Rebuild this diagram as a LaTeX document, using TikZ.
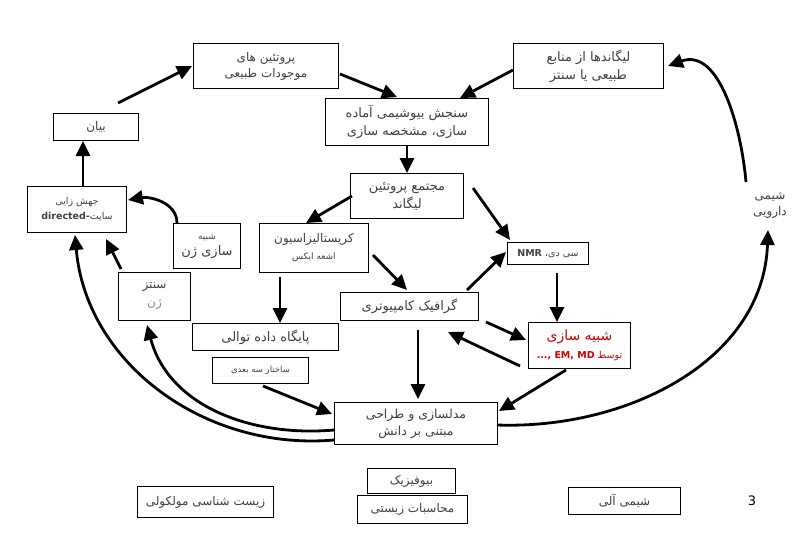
\documentclass[tikz,border=0pt]{standalone}
\usepackage{fontspec}
\setmainfont{DejaVu Sans}
\newfontfamily\ar[Script=Arabic]{DejaVu Sans}
\usetikzlibrary{arrows.meta}
\TeXXeTstate=1
\newcommand{\fa}[1]{{\ar\beginR #1\endR}}
\begin{document}
\begin{tikzpicture}[x=1pt,y=-1pt,
 box/.style={draw,line width=1pt,inner sep=0pt,align=center,anchor=north west},
 arr/.style={line width=2.8pt,-{Triangle[length=15pt,width=14pt]}},
 t/.style={font=\fontsize{12}{16}\selectfont,text=black!75}]
\useasboundingbox (0,0) rectangle (809,551);
\fill[white] (0,0) rectangle (809,551);
\node[box,minimum width=145,minimum height=45,t] (prot) at (193,43) {\fa{پروتئین های}\\\fa{موجودات طبیعی}};
\node[box,minimum width=150,minimum height=45,t,font=\fontsize{13}{18}\selectfont] (lig) at (513,43) {\fa{لیگاندها از منابع}\\\fa{طبیعی یا سنتز}};
\node[box,minimum width=163,minimum height=47,t,font=\fontsize{13}{18}\selectfont] (assay) at (325,98) {\fa{سنجش بیوشیمی آماده}\\\fa{سازی، مشخصه سازی}};
\node[box,minimum width=85,minimum height=27,t] (bayan) at (53,113) {\fa{بیان}};
\node[box,minimum width=113,minimum height=45,t,font=\fontsize{13}{18}\selectfont] (comp) at (350,173) {\fa{مجتمع پروتئین}\\\fa{لیگاند}};
\node[box,minimum width=99,minimum height=46,t,font=\fontsize{9.5}{15}\selectfont] (mut) at (27,186) {\fa{جهش زایی}\\\textbf{directed-}\fa{سایت}};
\node[box,minimum width=67,minimum height=45,t,font=\fontsize{9}{16}\selectfont] (gsim) at (173,223) {\fa{شبیه}\\{\fontsize{13}{15}\selectfont\fa{سازی ژن}}};
\node[box,minimum width=109,minimum height=49,t,font=\fontsize{12}{17}\selectfont] (cry) at (259,223) {\fa{کریستالیزاسیون}\\{\fontsize{9}{11}\selectfont\fa{اشعه ایکس}}};
\node[box,minimum width=81,minimum height=22,t,font=\fontsize{9.5}{11}\selectfont] (nmr) at (507,242) {\textbf{NMR} ،\fa{سی دی}};
\node[box,minimum width=72,minimum height=48,t,font=\fontsize{12}{18}\selectfont] (gsyn) at (118,272) {\fa{سنتز}\\{\color{black!45}\fa{ژن}}};
\node[box,minimum width=138,minimum height=28,t,font=\fontsize{13}{15}\selectfont] (graph) at (340,292) {\fa{گرافیک کامپیوتری}};
\node[box,minimum width=102,minimum height=46,text=red!80!black,font=\fontsize{14}{18}\selectfont] (sim) at (528,322) {\fa{شبیه سازی}\\{\fontsize{9.5}{11}\selectfont\textbf{..., EM, MD} \fa{توسط}}};
\node[box,minimum width=146,minimum height=27,t,font=\fontsize{13}{15}\selectfont] (db) at (192,323) {\fa{پایگاه داده توالی}};
\node[box,minimum width=96,minimum height=26,t,font=\fontsize{8.5}{10}\selectfont] (three) at (212,357) {\fa{ساختار سه بعدی}};
\node[box,minimum width=163,minimum height=42,t,font=\fontsize{12.5}{17}\selectfont] (mod) at (334,402) {\fa{مدلسازی و طراحی}\\\fa{مبتنی بر دانش}};
\node[box,minimum width=88,minimum height=25,t,font=\fontsize{12}{14}\selectfont] (bio) at (367,468) {\fa{بیوفیزیک}};
\node[box,minimum width=110,minimum height=28,t,font=\fontsize{12}{14}\selectfont] (comp2) at (357,495) {\fa{محاسبات زیستی}};
\node[box,minimum width=136,minimum height=31,t,font=\fontsize{12}{14}\selectfont] (mol) at (137,486) {\fa{زیست شناسی مولکولی}};
\node[box,minimum width=112,minimum height=27,t,font=\fontsize{12}{14}\selectfont] (org) at (568,487) {\fa{شیمی آلی}};
\node[font=\fontsize{13}{14}\selectfont] (num) at (752,501) {3};
\node[align=center,t,font=\fontsize{12}{16}\selectfont] (drug) at (770,205) {\fa{شیمی}\\\fa{دارویی}};
% free ends
\coordinate (a1) at (118,103); \coordinate (a2) at (192,66);
\coordinate (b1) at (340,74); \coordinate (b2) at (397,97);
\coordinate (c1) at (513,70); \coordinate (c2) at (460,98);
\coordinate (d1) at (352,196); \coordinate (d2) at (306,223);
\coordinate (e1) at (473,188); \coordinate (e2) at (510,240);
\coordinate (f1) at (373,255); \coordinate (f2) at (407,290);
\coordinate (g1) at (467,290); \coordinate (g2) at (506,252);
\coordinate (h1) at (486,322); \coordinate (h2) at (526,340);
\coordinate (i1) at (520,366); \coordinate (i2) at (448,332);
\coordinate (j1) at (418,330); \coordinate (j2) at (418,399);
\coordinate (k1) at (263,386); \coordinate (k2) at (332,414);
\coordinate (l1) at (566,370); \coordinate (l2) at (499,411);
\coordinate (m1) at (177,223); \coordinate (m2) at (128,200);
\coordinate (n1) at (121,269); \coordinate (n2) at (106,239);
\coordinate (o1) at (334,430); \coordinate (o2) at (147,325);
\coordinate (p1) at (334,440); \coordinate (p2) at (75,235);
\coordinate (q1) at (497,425); \coordinate (q2) at (768,230);
\coordinate (r1) at (746,182); \coordinate (r2) at (668,66);
\draw[arr] (mut.north -| 83,0) -- (bayan.south -| 83,0);
\draw[arr] (a1) -- (a2);
\draw[arr] (b1) -- (b2);
\draw[arr] (c1) -- (c2);
\draw[arr] (assay.south) -- (comp.north);
\draw[arr] (d1) -- (d2);
\draw[arr] (e1) -- (e2);
\draw[arr] (f1) -- (f2);
\draw[arr] (g1) -- (g2);
\draw[arr] (nmr.south -| 557,0) ++(0,8) -- (sim.north -| 557,0);
\draw[arr] (h1) -- (h2);
\draw[arr] (i1) -- (i2);
\draw[arr] (cry.south -| 280,0) ++(0,4) -- (db.north -| 280,0);
\draw[arr] (j1) -- (j2);
\draw[arr] (k1) -- (k2);
\draw[arr] (l1) -- (l2);
\draw[arr] (m1) to[out=90,in=10] (m2);
\draw[arr] (n1) -- (n2);
\draw[arr] (o1) to[out=185,in=285] (o2);
\draw[arr] (p1) to[out=185,in=275] (p2);
\draw[arr] (q1) to[out=-2,in=268] (q2);
\draw[arr] (r1) to[out=95,in=20] (r2);
\end{tikzpicture}
\end{document}
